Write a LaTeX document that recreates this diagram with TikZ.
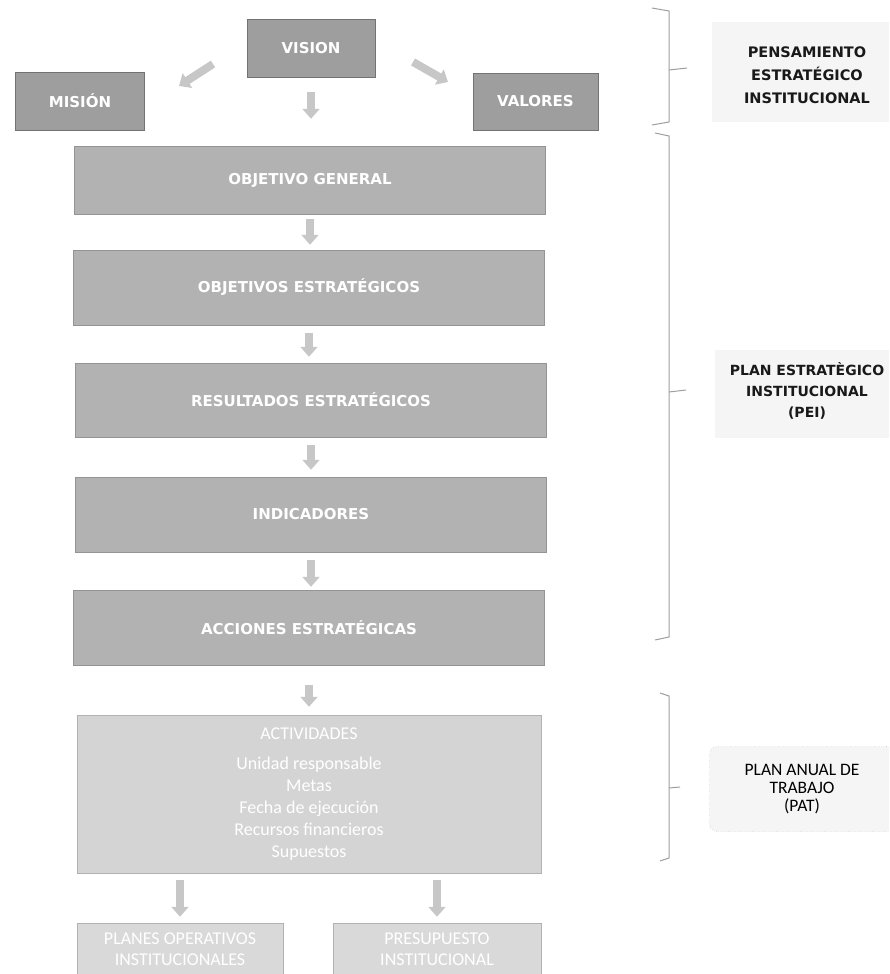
\documentclass[tikz,border=0pt]{standalone}
\usepackage{fontspec}
\setmainfont{DejaVu Sans}
\newfontfamily\calfont{Carlito}
\usetikzlibrary{arrows.meta,calc}
\begin{document}
\begin{tikzpicture}[x=1pt,y=-1pt,
  topbox/.style={fill=black!38, draw=black!55, line width=0.6pt, inner sep=0pt,
    text=white, font=\bfseries\fontsize{15}{17}\selectfont},
  mainbox/.style={fill=black!30, draw=black!42, line width=0.5pt, inner sep=0pt,
    minimum width=471pt, text=white, font=\bfseries\fontsize{15}{17}\selectfont},
  lightbox/.style={fill=black!17, draw=black!30, line width=0.5pt, inner sep=0pt,
    text=white, align=center, font=\calfont\fontsize{18}{22}\selectfont},
  barrow/.style={draw=black!22, line width=8pt, -{Triangle[length=10pt,width=17pt]}},
  bracket/.style={draw=black!38, line width=1pt},
  sidelabel/.style={align=center, text=black!90, font=\bfseries\fontsize{14.5}{23}\selectfont},
  labelbg/.style={fill=black!4, draw=none}
]
\useasboundingbox (0,0) rectangle (889,974);
\clip (0,0) rectangle (889,974);

% top row
\node[topbox, minimum width=128pt, minimum height=58pt] (vision) at (311,48) {VISION};
\node[topbox, minimum width=129pt, minimum height=58pt] (mision) at (80,101) {MISIÓN};
\node[topbox, minimum width=125pt, minimum height=57pt] (valores) at (535.5,101.5) {VALORES};

% main column
\node[mainbox, minimum height=68pt] (og) at (310,180) {OBJETIVO GENERAL};
\node[mainbox, minimum height=75pt] (oe) at (309,287.5) {OBJETIVOS ESTRATÉGICOS};
\node[mainbox, minimum height=74pt] (re) at (311,400) {RESULTADOS ESTRATÉGICOS};
\node[mainbox, minimum height=75pt] (ind) at (311,514.5) {INDICADORES};
\node[mainbox, minimum height=75pt] (acc) at (309,627.5) {ACCIONES ESTRATÉGICAS};

\node[lightbox, minimum width=464pt, minimum height=158pt] (act) at (309,794)
  {ACTIVIDADES\\[8pt] Unidad responsable\\ Metas\\ Fecha de ejecución\\ Recursos financieros\\ Supuestos};

\node[lightbox, fill=black!15, minimum width=206pt, minimum height=52pt] (poi) at (180,949)
  {PLANES OPERATIVOS\\[-1pt] INSTITUCIONALES};
\node[lightbox, fill=black!15, minimum width=208pt, minimum height=52pt] (pre) at (437,949)
  {PRESUPUESTO\\[-1pt] INSTITUCIONAL};

% arrows
\coordinate (l1) at (213,64);
\coordinate (l2) at (179,86);
\coordinate (r1) at (413,62);
\coordinate (r2) at (448,82);
\draw[barrow] (l1) -- (l2);
\draw[barrow] (r1) -- (r2);
\draw[barrow, shorten <=15pt, shorten >=27pt] (vision.south) -- (vision.south |- og.north);
\draw[barrow, shorten <=5pt, shorten >=5pt] (og.south) -- (og.south |- oe.north);
\draw[barrow, shorten <=8pt, shorten >=6pt] (oe.south) -- (oe.south |- re.north);
\draw[barrow, shorten <=8pt, shorten >=7pt] (re.south) -- (re.south |- ind.north);
\draw[barrow, shorten <=8pt, shorten >=3pt] (ind.south) -- (ind.south |- acc.north);
\draw[barrow, shorten <=20pt, shorten >=8pt] (acc.south) -- (acc.south |- act.north);
\draw[barrow, shorten <=7pt, shorten >=6pt] (act.south -| poi.north) -- (poi.north);
\draw[barrow, shorten <=7pt, shorten >=6pt] (act.south -| pre.north) -- (pre.north);

% brackets
\draw[bracket] (652,8) -- (669,11) -- (669,122) -- (652,125);
\draw[bracket] (669,70) -- (687,68);
\draw[bracket] (655,133) -- (669,136) -- (669,637) -- (655,640);
\draw[bracket] (669,392) -- (686,390);
\draw[bracket] (660,693) -- (669,696) -- (669,858) -- (660,861);
\draw[bracket] (669,788) -- (680,787);

% side labels
\fill[labelbg] (712,22) rectangle (889,122);
\node[sidelabel] (pen) at (807,75) {PENSAMIENTO\\ ESTRATÉGICO\\ INSTITUCIONAL};
\fill[labelbg] (715,350) rectangle (889,438);
\node[sidelabel, font=\bfseries\fontsize{14}{21}\selectfont] (pei) at (807,391) {PLAN ESTRATÈGICO\\ INSTITUCIONAL\\ (PEI)};
\node[draw=black!40, dotted, fill=black!4, rounded corners=8pt, minimum width=185pt, minimum height=85pt,
      inner sep=0pt, align=center, font=\calfont\fontsize{17.5}{18}\selectfont] (pat) at (802,789)
  {PLAN ANUAL DE\\ TRABAJO\\ (PAT)};
\end{tikzpicture}
\end{document}
